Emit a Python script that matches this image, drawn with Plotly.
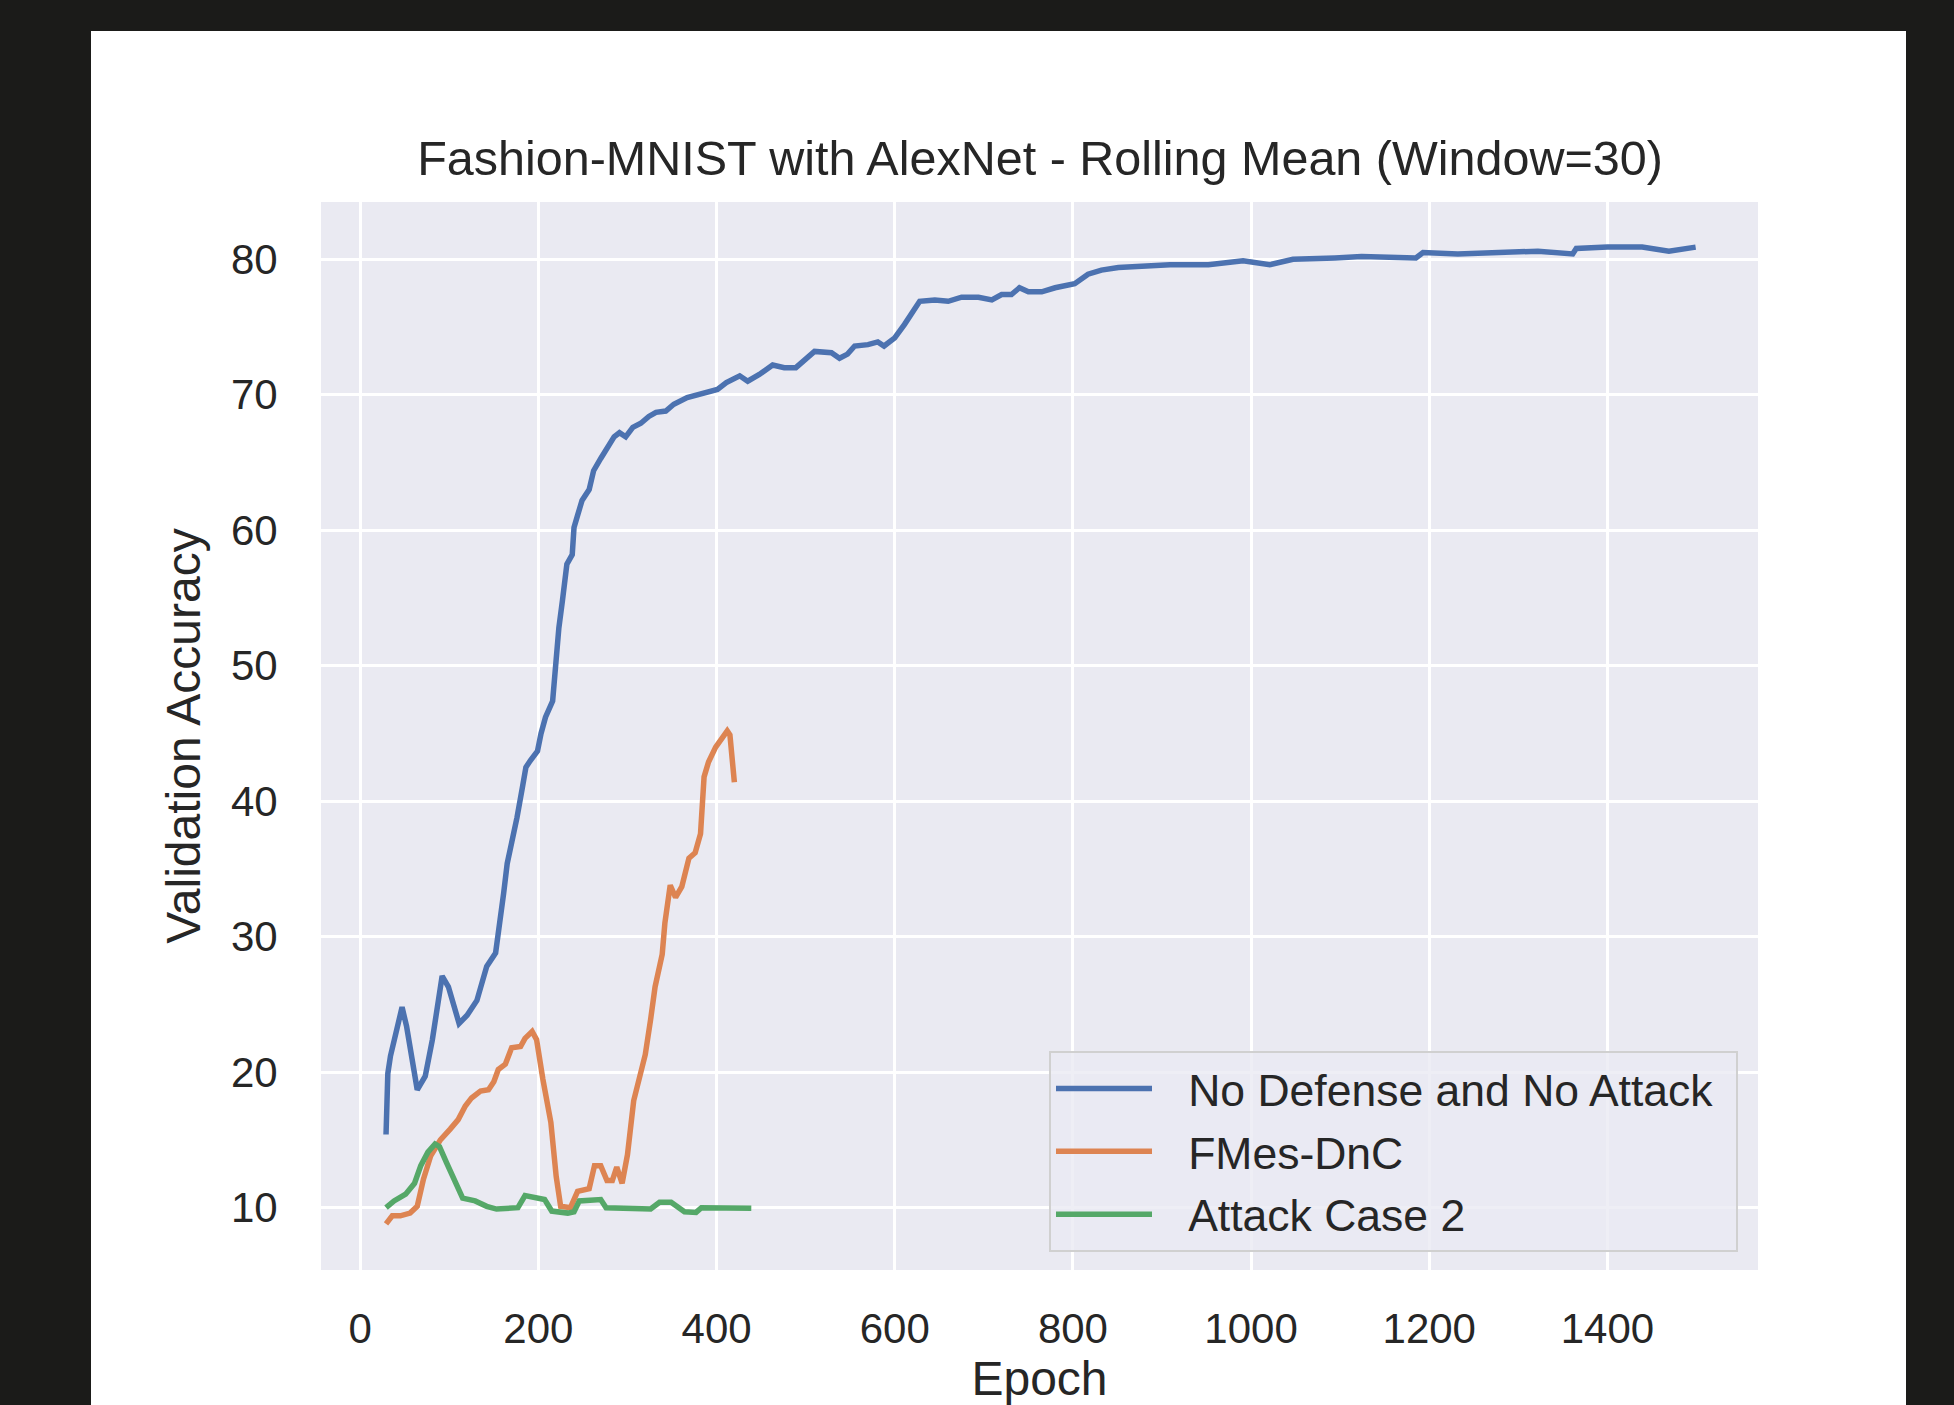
import plotly.graph_objects as go

# ---- data ----
blue_epoch = [29, 31, 34, 47, 52, 64, 73, 81, 92, 99, 111, 120, 131, 142, 152, 156, 161, 165, 171, 176,
              182, 186, 191, 199, 203, 208, 216, 219, 223, 227, 232, 238, 240, 244, 249, 257, 262, 270,
              277, 285, 291, 298, 306, 315, 324, 332, 343, 352, 367, 382, 394, 401, 411, 426, 435, 448,
              463, 476, 489, 510, 529, 538, 547, 555, 570, 581, 588, 600, 611, 619, 628, 645, 660, 675,
              694, 709, 720, 731, 740, 750, 765, 780, 797, 802, 817, 832, 851, 877, 909, 952, 991, 1021,
              1047, 1094, 1124, 1185, 1193, 1232, 1292, 1322, 1361, 1365, 1400, 1439, 1469, 1499]
blue_acc = [15.4, 19.9, 21.2, 24.8, 23.4, 18.7, 19.7, 22.4, 27.1, 26.3, 23.6, 24.2, 25.3, 27.8, 28.8, 30.5,
            33.2, 35.4, 37.1, 38.8, 41.0, 42.5, 43.0, 43.7, 45.0, 46.2, 47.4, 49.9, 52.8, 54.8, 57.5, 58.2,
            60.2, 61.1, 62.2, 63.0, 64.4, 65.3, 66.1, 66.9, 67.2, 66.9, 67.6, 67.9, 68.4, 68.7, 68.8, 69.3,
            69.8, 70.1, 70.3, 70.4, 70.9, 71.4, 71.0, 71.5, 72.2, 72.0, 72.0, 73.2, 73.1, 72.7, 73.0, 73.6,
            73.7, 73.9, 73.6, 74.2, 75.2, 76.0, 76.9, 77.0, 76.9, 77.2, 77.2, 77.0, 77.4, 77.4, 77.9, 77.6,
            77.6, 77.9, 78.1, 78.2, 78.9, 79.2, 79.4, 79.5, 79.6, 79.6, 79.9, 79.6, 80.0, 80.1, 80.2, 80.1,
            80.5, 80.4, 80.5, 80.6, 80.4, 80.8, 80.9, 80.9, 80.6, 80.9]

orange_epoch = [29, 36, 45, 56, 64, 71, 79, 90, 101, 110, 118, 125, 135, 144, 150, 155, 163, 170, 180, 185,
                193, 198, 205, 214, 220, 225, 236, 244, 257, 263, 270, 277, 283, 288, 294, 300, 307, 315,
                320, 326, 331, 339, 342, 348, 354, 361, 369, 376, 382, 386, 391, 399, 406, 412, 415, 420]
orange_acc = [8.8, 9.4, 9.4, 9.6, 10.1, 12.1, 13.8, 15.0, 15.8, 16.5, 17.5, 18.1, 18.6, 18.7, 19.3, 20.2,
              20.6, 21.8, 21.9, 22.5, 23.0, 22.4, 19.5, 16.3, 12.3, 10.1, 10.0, 11.2, 11.4, 13.1, 13.1,
              12.0, 12.0, 13.0, 11.8, 13.9, 17.9, 20.0, 21.3, 23.9, 26.3, 28.7, 31.0, 33.8, 32.9, 33.7,
              35.8, 36.2, 37.6, 41.8, 42.9, 44.0, 44.7, 45.2, 44.9, 41.4]

green_epoch = [29, 38, 51, 61, 68, 76, 84, 89, 97, 106, 115, 129, 142, 153, 177, 185, 199, 207, 215, 233,
               240, 246, 270, 276, 326, 336, 349, 364, 377, 383, 439]
green_acc = [10.0, 10.5, 11.0, 11.8, 13.1, 14.1, 14.7, 14.5, 13.3, 12.1, 10.7, 10.5, 10.1, 9.9, 10.0, 10.9,
             10.7, 10.6, 9.75, 9.6, 9.7, 10.5, 10.6, 10.0, 9.9, 10.4, 10.4, 9.7, 9.65, 10.0, 9.95]

series_names = ["No Defense and No Attack", "FMes-DnC", "Attack Case 2"]
series_colors = ["#4C72B0", "#DD8452", "#55A868"]
x_ticks = [0, 200, 400, 600, 800, 1000, 1200, 1400]
y_ticks = [10, 20, 30, 40, 50, 60, 70, 80]

title_text = "Fashion-MNIST with AlexNet - Rolling Mean (Window=30)"
x_label = "Epoch"
y_label = "Validation Accuracy"

# ---- layout geometry (pixels) ----
W, H = 1954, 1405
L, R, T, B = 321, 1758, 202, 1270
pw, ph = R - L, B - T

def px_x(p):
    return (p - L) / pw

def px_y(p):
    return (B - p) / ph

FONT = "Liberation Sans, Arial, sans-serif"
TXT = "#262626"
LEAD = "\u2002\u2009"   # spacing between legend line sample and label
TRAIL = "\u2009\u2009"  # right padding inside legend box

fig = go.Figure()
for i, (xs, ys) in enumerate([(blue_epoch, blue_acc), (orange_epoch, orange_acc), (green_epoch, green_acc)]):
    label = LEAD + series_names[i] + (TRAIL if i == 0 else "")
    fig.add_trace(go.Scatter(x=xs, y=ys, mode="lines", name=label,
                             legendgroup=f"g{i}",
                             line=dict(color=series_colors[i], width=5.5)))

shapes = [
    # white figure card
    dict(type="rect", xref="paper", yref="paper", layer="below",
         x0=px_x(91), x1=px_x(1906), y0=px_y(1410), y1=px_y(31),
         fillcolor="white", line=dict(width=0)),
    # axes background
    dict(type="rect", xref="paper", yref="paper", layer="below",
         x0=0, x1=1, y0=0, y1=1, fillcolor="#EAEAF2", line=dict(width=0)),
]

fig.update_layout(
    width=W, height=H,
    margin=dict(l=L, r=W - R, t=T, b=H - B, pad=0),
    paper_bgcolor="#1b1b19",
    plot_bgcolor="rgba(0,0,0,0)",
    shapes=shapes,
    showlegend=True,
    title=dict(text=title_text, x=1040 / W, xanchor="center",
               y=1 - 158 / H, yanchor="middle",
               font=dict(family=FONT, size=48.5, color=TXT)),
    font=dict(family=FONT, color=TXT),
    legend=dict(x=px_x(1738), xanchor="right", y=px_y(1252), yanchor="bottom",
                bgcolor="rgba(234,234,242,0.8)", bordercolor="#d0d0d0", borderwidth=2,
                font=dict(family=FONT, size=44.5, color=TXT),
                itemwidth=96, tracegroupgap=2),
    xaxis=dict(range=[-44, 1569], tickmode="array", tickvals=x_ticks, automargin=False,
               showgrid=True, gridcolor="white", gridwidth=3.3, zeroline=False,
               showline=False, ticks="outside", ticklen=22, tickcolor="rgba(0,0,0,0)",
               tickfont=dict(family=FONT, size=42, color=TXT),
               title=dict(text=x_label, font=dict(family=FONT, size=48, color=TXT), standoff=18)),
    yaxis=dict(range=[5.40, 84.23], tickmode="array", tickvals=y_ticks, automargin=False,
               showgrid=True, gridcolor="white", gridwidth=3.3, zeroline=False,
               showline=False, ticks="outside", ticklen=34, tickcolor="rgba(0,0,0,0)",
               tickfont=dict(family=FONT, size=42, color=TXT),
               title=dict(text=y_label, font=dict(family=FONT, size=48, color=TXT), standoff=15)),
)

fig.write_html("out.html",
               config={"displayModeBar": False},
               post_script="document.body.style.margin='0px';document.body.style.background='#1b1b19';")
